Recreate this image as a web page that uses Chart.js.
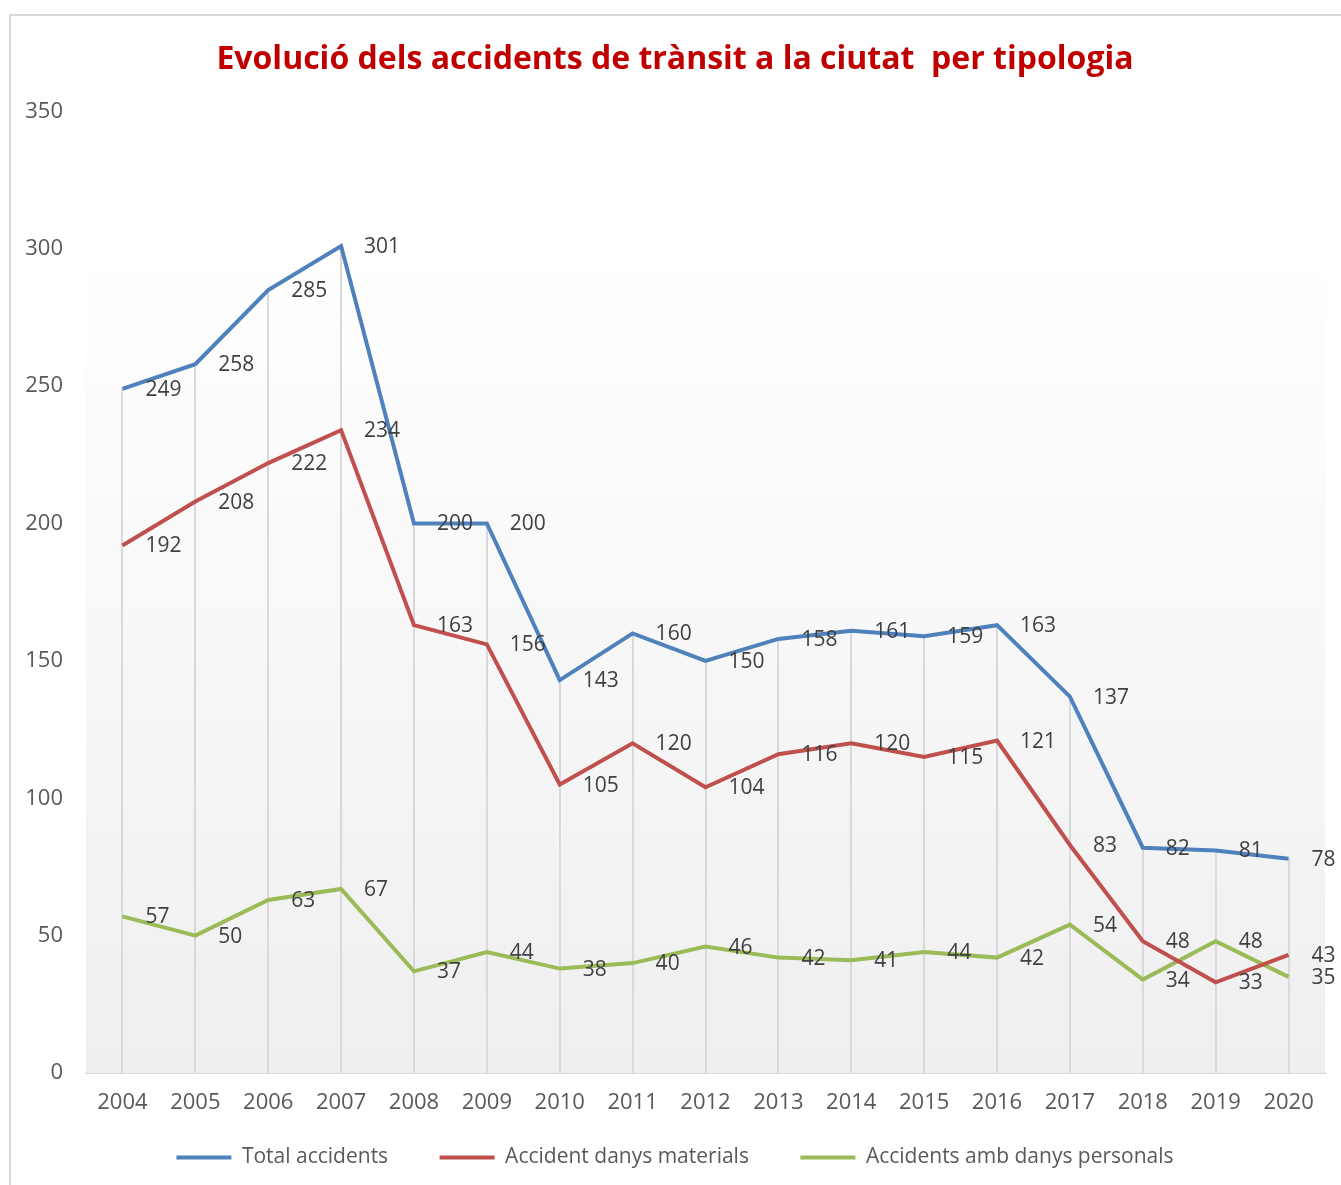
<!DOCTYPE html>
<html>
<head>
<meta charset="utf-8">
<script src="https://cdn.jsdelivr.net/npm/chart.js@4/dist/chart.umd.min.js"></script>
<style>
  html, body { margin: 0; padding: 0; background: #fff; overflow: hidden; }
  #frame { position: absolute; left: 9px; top: 14px; width: 1340px; height: 1180px; border: 2px solid #d9d9d9; }
  #wrap { position: absolute; left: 0; top: 0; width: 1341px; height: 1185px; }
</style>
</head>
<body>
<div id="frame"></div>
<div id="wrap"><canvas id="chart"></canvas></div>
<script>
// Anys
const years = ['2004', '2005', '2006', '2007', '2008', '2009', '2010', '2011', '2012',
               '2013', '2014', '2015', '2016', '2017', '2018', '2019', '2020'];

// Series
const totalAccidents = [249, 258, 285, 301, 200, 200, 143, 160, 150, 158, 161, 159, 163, 137, 82, 81, 78];
const danysMaterials = [192, 208, 222, 234, 163, 156, 105, 120, 104, 116, 120, 115, 121, 83, 48, 33, 43];
const danysPersonals = [57, 50, 63, 67, 37, 44, 38, 40, 46, 42, 41, 44, 42, 54, 34, 48, 35];

const seriesNames = ['Total accidents', 'Accident danys materials', 'Accidents amb danys personals'];
const seriesColors = ['#4F81BD', '#C0504D', '#9BBB59'];

const FONT = '"Open Sans", "Noto Sans", sans-serif';

// background gradient + drop lines
const plotBackground = {
    id: 'plotBackground',
    beforeDatasetsDraw(chart) {
        const { ctx, chartArea } = chart;
        const y = chart.scales.y;
        const x = chart.scales.x;
        ctx.save();
        const top = y.getPixelForValue(305);
        const g = ctx.createLinearGradient(0, top, 0, chartArea.bottom);
        g.addColorStop(0, 'rgba(240,240,240,0)');
        g.addColorStop(1, '#efefef');
        ctx.fillStyle = g;
        ctx.fillRect(chartArea.left, top, chartArea.right - chartArea.left, chartArea.bottom - top);

        // drop lines from the highest point of each category
        ctx.strokeStyle = '#d9d9d9';
        ctx.lineWidth = 2;
        years.forEach((yr, i) => {
            const hi = Math.max(totalAccidents[i], danysMaterials[i], danysPersonals[i]);
            const px = Math.round(x.getPixelForValue(i));
            ctx.beginPath();
            ctx.moveTo(px, y.getPixelForValue(hi));
            ctx.lineTo(px, chartArea.bottom);
            ctx.stroke();
        });
        ctx.restore();
    }
};

// value labels placed to the right of each point
const valueLabels = {
    id: 'valueLabels',
    afterDatasetsDraw(chart) {
        const ctx = chart.ctx;
        ctx.save();
        ctx.font = '21px ' + FONT;
        ctx.fillStyle = '#404040';
        ctx.textAlign = 'left';
        ctx.textBaseline = 'middle';
        chart.data.datasets.forEach((ds, di) => {
            const meta = chart.getDatasetMeta(di);
            meta.data.forEach((pt, i) => {
                ctx.fillText(String(ds.data[i]), pt.x + 23, pt.y + 1);
            });
        });
        ctx.restore();
    }
};

const ctx = document.getElementById('chart');

new Chart(ctx, {
    type: 'line',
    data: {
        labels: years,
        datasets: [totalAccidents, danysMaterials, danysPersonals].map((d, i) => ({
            label: seriesNames[i],
            data: d,
            borderColor: seriesColors[i],
            backgroundColor: seriesColors[i],
            borderWidth: 4,
            pointRadius: 0,
            tension: 0,
            fill: false
        }))
    },
    options: {
        responsive: true,
        maintainAspectRatio: false,
        animation: false,
        layout: {
            padding: { left: 25, right: 16, top: 20, bottom: 7 }
        },
        plugins: {
            title: {
                display: true,
                text: 'Evolució dels accidents de trànsit a la ciutat  per tipologia',
                color: '#C00000',
                font: { family: FONT, size: 32, weight: 'bold' },
                padding: { top: 21, bottom: 32 }
            },
            legend: {
                position: 'bottom',
                labels: {
                    usePointStyle: true,
                    pointStyle: 'line',
                    pointStyleWidth: 55,
                    color: '#595959',
                    font: { family: FONT, size: 21 },
                    padding: 20,
                    // widen the gap after the first two items
                    generateLabels(chart) {
                        const items = Chart.defaults.plugins.legend.labels.generateLabels(chart);
                        items.forEach((it, i) => {
                            if (i < items.length - 1) it.text += '\u2002\u2002\u2002';
                        });
                        return items;
                    }
                }
            },
            tooltip: { enabled: false }
        },
        scales: {
            x: {
                offset: true,
                grid: { display: false, drawTicks: false },
                border: { color: '#d9d9d9', width: 2 },
                ticks: {
                    color: '#595959',
                    font: { family: FONT, size: 22 },
                    padding: 17,
                    maxRotation: 0,
                    autoSkip: false
                },
                afterFit(scale) { scale.height = 54; }
            },
            y: {
                min: 0,
                max: 350,
                grid: { display: false, drawTicks: false },
                border: { display: false },
                ticks: {
                    stepSize: 50,
                    color: '#595959',
                    font: { family: FONT, size: 22 },
                    padding: 23
                },
                afterFit(scale) { scale.width = 61; }
            }
        }
    },
    plugins: [plotBackground, valueLabels]
});
</script>
</body>
</html>
